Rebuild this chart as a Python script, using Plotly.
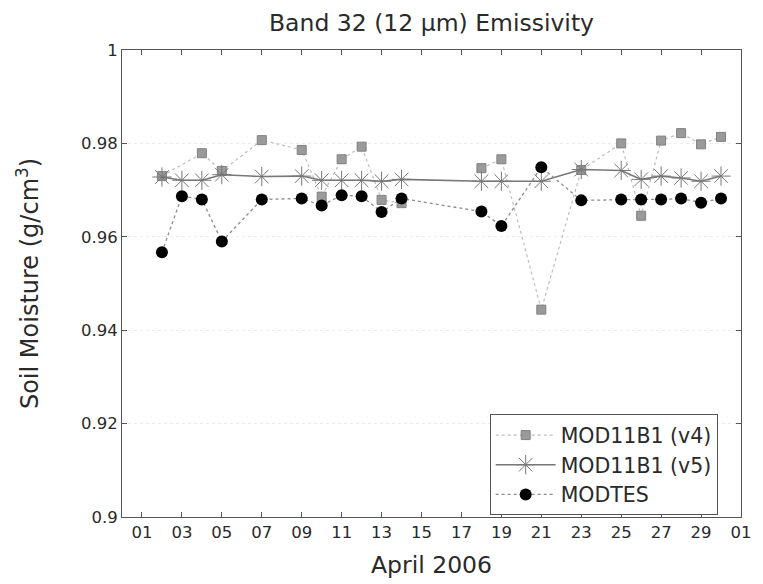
import plotly.graph_objects as go

# ---- data ----
v4_dates = ["2006-04-02", "2006-04-04", "2006-04-05", "2006-04-07", "2006-04-09",
            "2006-04-10", "2006-04-11", "2006-04-12", "2006-04-13", "2006-04-14",
            "2006-04-16",
            "2006-04-18", "2006-04-19", "2006-04-21", "2006-04-23", "2006-04-25",
            "2006-04-26", "2006-04-27", "2006-04-28", "2006-04-29", "2006-04-30"]
v4_values = [0.9730, 0.9779, 0.9741, 0.9807, 0.9786,
             0.9686, 0.9766, 0.9793, 0.9679, 0.9672,
             None,
             0.9747, 0.9766, 0.9444, 0.9743, 0.9800,
             0.9645, 0.9806, 0.9822, 0.9798, 0.9814]

common_dates = ["2006-04-02", "2006-04-03", "2006-04-04", "2006-04-05", "2006-04-07",
                "2006-04-09", "2006-04-10", "2006-04-11", "2006-04-12", "2006-04-13",
                "2006-04-14", "2006-04-18", "2006-04-19", "2006-04-21", "2006-04-23",
                "2006-04-25", "2006-04-26", "2006-04-27", "2006-04-28", "2006-04-29",
                "2006-04-30"]
v5_values = [0.9728, 0.9721, 0.9721, 0.9733, 0.9729,
             0.9730, 0.9721, 0.9721, 0.9721, 0.9719,
             0.9723, 0.9719, 0.9719, 0.9719, 0.9744,
             0.9742, 0.9723, 0.9730, 0.9726, 0.9719,
             0.9730]
modtes_values = [0.9567, 0.9687, 0.9680, 0.9590, 0.9680,
                 0.9682, 0.9667, 0.9689, 0.9687, 0.9653,
                 0.9682, 0.9654, 0.9623, 0.9749, 0.9678,
                 0.9680, 0.9680, 0.9680, 0.9682, 0.9673,
                 0.9682]

y_ticks = [0.9, 0.92, 0.94, 0.96, 0.98, 1.0]
y_ticktext = ["0.9", "0.92", "0.94", "0.96", "0.98", "1"]
x_ticks = ["2006-04-01", "2006-04-03", "2006-04-05", "2006-04-07", "2006-04-09",
           "2006-04-11", "2006-04-13", "2006-04-15", "2006-04-17", "2006-04-19",
           "2006-04-21", "2006-04-23", "2006-04-25", "2006-04-27", "2006-04-29",
           "2006-05-01"]
x_ticktext = ["01", "03", "05", "07", "09", "11", "13", "15", "17", "19",
              "21", "23", "25", "27", "29", "01"]

FONT = "DejaVu Sans, Verdana, sans-serif"
TXT = "#2a2a2a"

fig = go.Figure()
fig.add_trace(go.Scatter(
    x=v4_dates, y=v4_values, name="MOD11B1 (v4)", mode="lines+markers",
    connectgaps=False,
    line=dict(color="#bdbdbd", width=1.2, dash="dot"),
    marker=dict(symbol="square", size=9, color="#9a9a9a",
                line=dict(color="#808080", width=1)),
))
fig.add_trace(go.Scatter(
    x=common_dates, y=v5_values, name="MOD11B1 (v5)", mode="lines+markers",
    line=dict(color="#777777", width=1.6),
    marker=dict(symbol="asterisk-open", size=16,
                line=dict(color="#9a9a9a", width=1)),
))
fig.add_trace(go.Scatter(
    x=common_dates, y=modtes_values, name="MODTES", mode="lines+markers",
    line=dict(color="#8c8c8c", width=1.3, dash="dot"),
    marker=dict(symbol="circle", size=12, color="#000000",
                line=dict(color="#000000", width=0)),
))

fig.update_layout(
    width=763, height=584,
    margin=dict(l=122, r=22, t=50, b=67),
    paper_bgcolor="white", plot_bgcolor="white",
    font=dict(family=FONT, size=16.5, color=TXT),
    title=dict(text="Band 32 (12 μm) Emissivity", x=0.5, xref="paper",
               y=1 - 23 / 584, yref="container", yanchor="middle", xanchor="center",
               font=dict(family=FONT, size=23.5, color=TXT)),
    showlegend=True,
    legend=dict(x=0.594, y=0.22, xanchor="left", yanchor="top",
                bgcolor="white", bordercolor="#555555", borderwidth=1,
                font=dict(family=FONT, size=20.5, color=TXT),
                itemwidth=60, tracegroupgap=0),
)
fig.update_xaxes(
    type="date", range=["2006-03-31", "2006-05-01"],
    tickvals=x_ticks, ticktext=x_ticktext,
    ticks="inside", ticklen=5, tickcolor="#555555",
    showline=True, linecolor="#555555", linewidth=1, mirror="ticks",
    showgrid=False, zeroline=False,
    title=dict(text="April 2006", standoff=15, font=dict(family=FONT, size=23.5, color=TXT)),
    tickfont=dict(family=FONT, size=16.5, color=TXT),
)
fig.update_yaxes(
    range=[0.9, 1.0], tickvals=y_ticks, ticktext=y_ticktext,
    ticks="inside", ticklen=5, tickcolor="#555555",
    showline=True, linecolor="#555555", linewidth=1, mirror="ticks",
    showgrid=True, gridcolor="#ececec", griddash="dot", gridwidth=1, zeroline=False,
    title=dict(text="Soil Moisture (g/cm<sup>3</sup>)", standoff=35,
               font=dict(family=FONT, size=24, color=TXT)),
    tickfont=dict(family=FONT, size=16.5, color=TXT),
)

fig.write_html("out.html")
